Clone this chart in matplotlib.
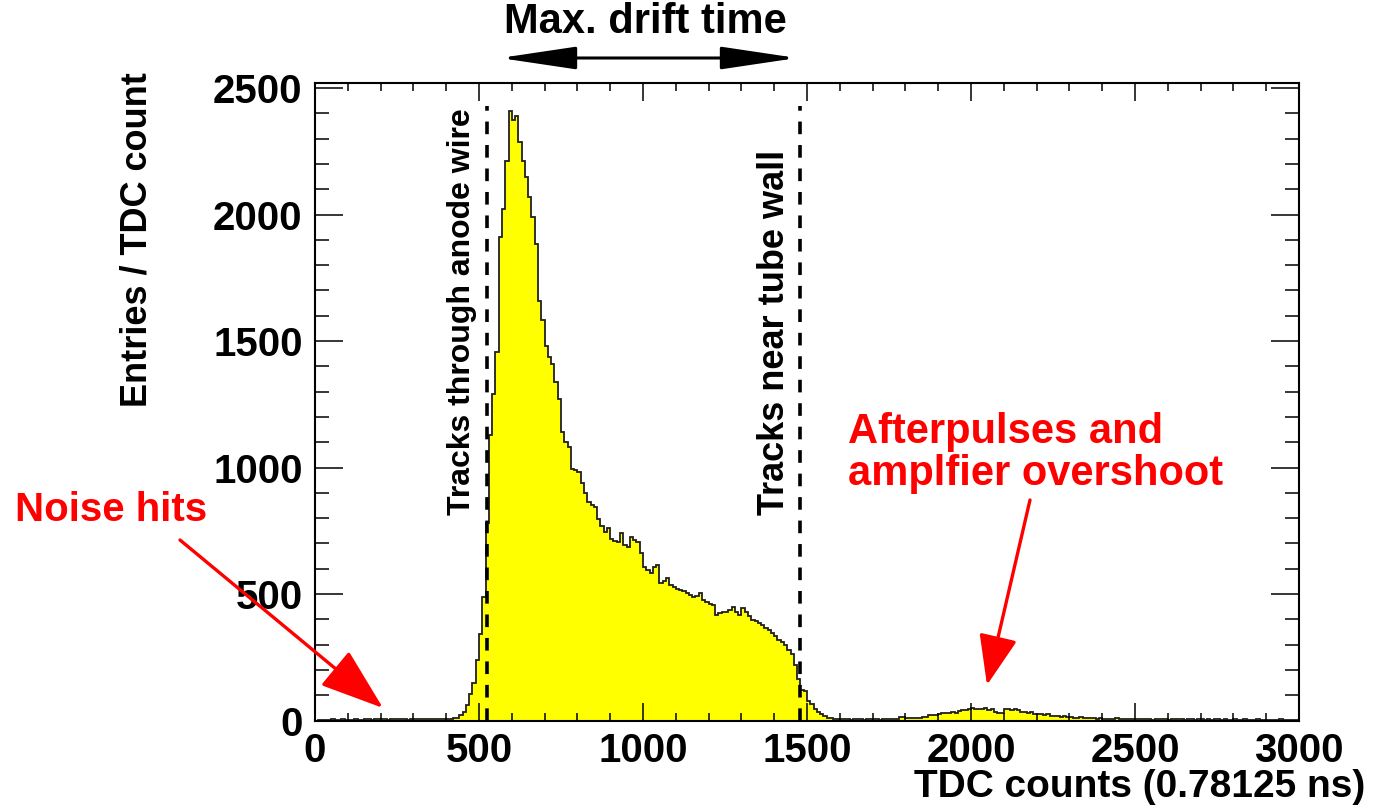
import numpy as np
import matplotlib
matplotlib.use("Agg")
import matplotlib.pyplot as plt
from matplotlib.patches import FancyArrowPatch
from matplotlib.ticker import MultipleLocator

plt.rcParams['font.family'] = ['Liberation Sans', 'DejaVu Sans']
plt.rcParams['font.weight'] = 'bold'

# entries per TDC bin (10 counts wide)
noise_counts = [0, 1, 2, 1, 3, 4, 3, 2, 4, 3, 2, 3, 4, 3, 2, 4, 5, 3, 4, 6,
                5, 4, 3, 5, 4, 6, 5, 4, 3, 5, 4, 6, 5, 4, 5, 6, 5, 4, 6, 5,
                7, 6, 8]                                   # 0 - 430
rise_counts = [10, 20, 33, 60, 105, 150, 240, 340, 490, 780,
               1130, 1290, 1455, 1910, 2020, 2210]         # 430 - 590
peak_counts = [2410, 2372, 2388, 2285, 2210, 2150, 2070, 1990, 1885, 1660,
               1585, 1480, 1435, 1410, 1340, 1270, 1140, 1100, 1080, 995]  # 590 - 790
drift_counts = [990, 982, 940, 900, 865, 850, 843, 795, 770, 745,
                760, 716, 710, 705, 742, 695, 686, 727, 712, 705,
                662, 608, 595, 582, 605, 615, 545, 550, 565, 535,
                528, 520, 515, 510, 503, 497, 488, 493, 503, 475,
                468, 460, 456, 418, 423, 428, 430, 435, 448, 430,
                418, 445, 428, 415, 398, 392, 385, 377, 367, 357,
                345, 335, 320, 310, 298, 280, 262]          # 790 - 1460
edge_counts = [218, 165, 122, 117, 78, 66, 46, 33, 27, 17, 11, 8, 7, 6]  # 1460 - 1600
quiet_counts = [5, 4, 5, 3, 4, 5, 4, 3, 5, 4, 4, 5, 3, 4, 5, 6, 5, 6]    # 1600 - 1780
afterpulse_counts = [14, 12, 8, 9, 10, 10, 11, 12, 15, 20,
                     21, 22, 26, 30, 29, 31, 33, 30, 38, 42,
                     40, 46, 50, 44, 47, 45, 48, 42, 44, 35,
                     30, 28, 46, 44, 42, 45, 40, 33, 35, 30,
                     32, 25, 27, 24, 22, 24, 18, 17, 19, 15,
                     16, 12, 13, 11, 10, 12, 9, 10, 8, 9,
                     7, 8]                                  # 1780 - 2400
late_counts = [6, 7, 5, 6, 8, 5, 4, 6, 5, 7, 4, 5, 6, 4, 5, 3, 4, 6, 5, 4,
               3, 4, 5, 6, 4, 3, 5, 4, 3, 4, 5, 3, 4, 3, 4, 5, 3, 4, 2, 3,
               4, 3, 2, 4, 3, 3, 2, 4, 3, 2, 3, 2, 3, 2, 4, 2, 3, 2, 2, 3]  # 2400 - 3000

bin_width = 10
tdc_range = (0, 3000)
y_max = 2520
anode_cut = 525      # tracks through anode wire
wall_cut = 1480      # tracks near tube wall
cut_top = 2430

x_ticks = [0, 500, 1000, 1500, 2000, 2500, 3000]
y_ticks = [0, 500, 1000, 1500, 2000, 2500]

counts = np.concatenate([noise_counts, rise_counts, peak_counts, drift_counts,
                         edge_counts, quiet_counts, afterpulse_counts, late_counts])
edges = np.arange(tdc_range[0], tdc_range[1] + bin_width, bin_width)
assert len(counts) == len(edges) - 1

W, H = 1375, 809


def fpx(x, y):
    # pixel position in the picture -> figure fraction
    return x / W, 1 - y / H


fig = plt.figure(figsize=(W / 100, H / 100), dpi=100)
ax = fig.add_axes([315 / W, 1 - 720.5 / H, 984 / W, 637.5 / H])

ax.stairs(counts, edges, fill=True, color='#ffff00', zorder=1)
ax.stairs(counts, edges, baseline=None, color='#202020', lw=1.3, zorder=1.5)

for x in (anode_cut, wall_cut):
    ax.plot([x, x], [0, cut_top], color='black', lw=2.6, ls=(0, (3.5, 3)), zorder=3)

ax.set_xlim(*tdc_range)
ax.set_ylim(0, y_max)
ax.set_xticks(x_ticks)
ax.set_yticks(y_ticks)
ax.xaxis.set_minor_locator(MultipleLocator(100))
ax.yaxis.set_minor_locator(MultipleLocator(100))
ax.tick_params(which='both', direction='in', top=True, right=True, width=1.1, labelsize=29)
ax.tick_params(axis='x', which='major', length=13, pad=8)
ax.tick_params(axis='x', which='minor', length=6)
ax.tick_params(axis='y', which='major', length=20, pad=9)
ax.tick_params(axis='y', which='minor', length=10)
for s in ax.spines.values():
    s.set_linewidth(1.5)

ax.text(448, 813, 'Tracks through anode wire', rotation=90, ha='center', va='bottom',
        fontsize=23, zorder=4)
ax.text(1402, 813, 'Tracks near tube wall', rotation=90, ha='center', va='bottom',
        fontsize=26, zorder=4)

fig.text(*fpx(137, 240), 'Entries / TDC count', rotation=90, ha='center', va='center', fontsize=26)
fig.text(*fpx(1365, 787), 'TDC counts (0.78125 ns)', ha='right', va='center', fontsize=28)

fig.text(*fpx(645, 22), 'Max. drift time', ha='center', va='center', fontsize=30)
fig.add_artist(FancyArrowPatch(fpx(500, 58), fpx(797, 58), transform=fig.transFigure,
                               arrowstyle='<|-|>,head_length=47,head_width=7',
                               lw=2.2, color='black', shrinkA=0, shrinkB=0))

red = '#ff0000'
fig.text(*fpx(15, 510), 'Noise hits', ha='left', va='center', fontsize=29, color=red)
fig.add_artist(FancyArrowPatch(fpx(180, 540), fpx(383, 708), transform=fig.transFigure,
                               arrowstyle='-|>,head_length=40,head_width=14',
                               lw=2.4, color=red, shrinkA=0, shrinkB=0))

fig.text(*fpx(848, 453), 'Afterpulses and\namplfier overshoot', ha='left', va='center',
         fontsize=30, color=red, linespacing=1.05)
fig.add_artist(FancyArrowPatch(fpx(1030, 500), fpx(987, 685), transform=fig.transFigure,
                               arrowstyle='-|>,head_length=31,head_width=12',
                               lw=2.4, color=red, shrinkA=0, shrinkB=0))

fig.savefig('out.png', dpi=100)
